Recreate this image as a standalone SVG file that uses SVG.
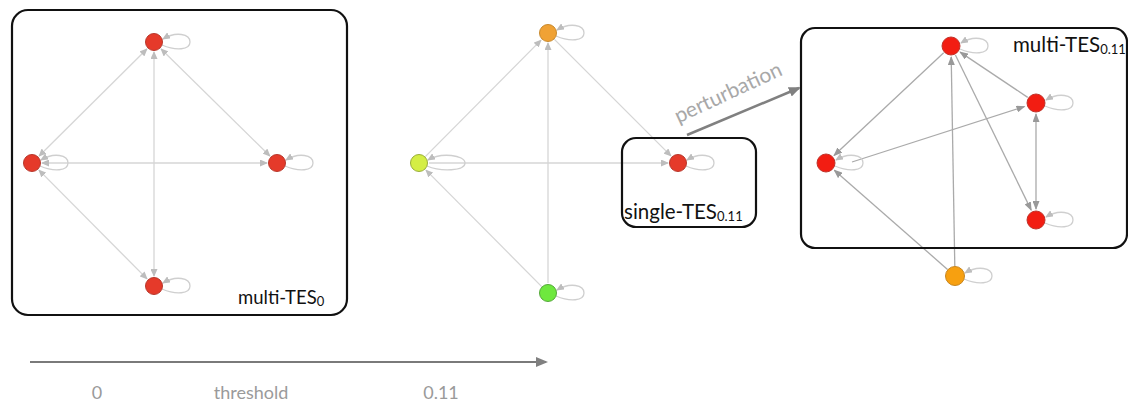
<svg xmlns="http://www.w3.org/2000/svg" width="1128" height="409" viewBox="0 0 1128 409">
<defs>
<marker id="ah" markerWidth="8" markerHeight="7" refX="7" refY="3.5" orient="auto-start-reverse" markerUnits="userSpaceOnUse"><path d="M0,0 L8,3.5 L0,7 Z" fill="#bdbdbd"/></marker>
<marker id="ah3" markerWidth="9" markerHeight="7" refX="8" refY="3.5" orient="auto-start-reverse" markerUnits="userSpaceOnUse"><path d="M0,0 L9,3.5 L0,7 Z" fill="#999"/></marker>
<marker id="ahd" markerWidth="12" markerHeight="10" refX="10" refY="5" orient="auto" markerUnits="userSpaceOnUse"><path d="M0,0 L12,5 L0,10 Z" fill="#808080"/></marker>
</defs>
<style>
.box{fill:none;stroke:#111;stroke-width:2.2}
.e{fill:none;stroke:#d6d6d6;stroke-width:1.3}
.e3{fill:none;stroke:#aaaaaa;stroke-width:1.3}
.loop{fill:none;stroke:#cfcfcf;stroke-width:1.3}
.n{stroke-width:1}
.red{fill:#e53a2a;stroke:#b8382c}
.red3{fill:#f21d12;stroke:#c0332a}
.org{fill:#f0a235;stroke:#c88a2e}
.org3{fill:#f7a010;stroke:#c68520}
.yel{fill:#d4ee45;stroke:#9aae3a}
.grn{fill:#6ee83e;stroke:#55a83a}
.lbl{font-family:"Lato","Open Sans",sans-serif;font-size:18.5px;fill:#111}
.lbl2{font-family:"Lato","Open Sans",sans-serif;font-size:20.5px;fill:#111}
.sub{font-size:13px}
.ax{font-family:"Lato","Open Sans",sans-serif;font-size:18px;fill:#9a9a9a}
</style>

<g id="connectors">
  <!-- panel 1 -->
  <path class="e" d="M146.9,49 L39.1,156" marker-start="url(#ah)" marker-end="url(#ah)"/>
  <path class="e" d="M161.1,49 L269.9,156" marker-start="url(#ah)" marker-end="url(#ah)"/>
  <path class="e" d="M154,52 L154,276" marker-start="url(#ah)" marker-end="url(#ah)"/>
  <path class="e" d="M42,163 L267,163" marker-start="url(#ah)" marker-end="url(#ah)"/>
  <path class="e" d="M39,170.1 L147,278.9" marker-start="url(#ah)" marker-end="url(#ah)"/>
  <!-- panel 2 -->
  <path class="e" d="M425.3,156.6 L541,40.1" marker-end="url(#ah)"/>
  <path class="e" d="M548,283 L548,43" marker-end="url(#ah)"/>
  <path class="e" d="M554.4,39.4 L670.9,155.9" marker-end="url(#ah)"/>
  <path class="e" d="M429,163 L668,163" marker-end="url(#ah)"/>
  <path class="e" d="M541.7,286.6 L426,170.1" marker-end="url(#ah)"/>
  <!-- panel 3 -->
  <path class="e3" d="M943.7,52.8 L834,155.5" marker-end="url(#ah3)"/>
  <path class="e3" d="M1027.7,97.4 L960.1,52.1" marker-end="url(#ah3)"/>
  <path class="e3" d="M852,162 L1024.5,106.5" marker-end="url(#ah3)"/>
  <path class="e3" d="M955.4,55 L1031.2,210.1" marker-end="url(#ah3)"/>
  <path class="e3" d="M1036,114 L1036,209" marker-start="url(#ah3)" marker-end="url(#ah3)"/>
  <path class="e3" d="M954.8,266 L951.2,57" marker-end="url(#ah3)"/>
  <path class="e3" d="M947.5,269.4 L834.3,170.2" marker-end="url(#ah3)"/>
  <!-- perturbation -->
  <path d="M687,135 L799,88" fill="none" stroke="#808080" stroke-width="2.5" marker-end="url(#ahd)"/>
  <!-- axis -->
  <path d="M30,362 L546,362" fill="none" stroke="#7a7a7a" stroke-width="2" marker-end="url(#ahd)"/>
</g>

<g id="loops">
  <path class="loop" d="M163,39 C176,31 190,34 190,42 C190,50 176,51 162,45" marker-start="url(#ah)"/>
  <path class="loop" d="M41,160 C54,152 68,155 68,163 C68,171 54,172 40,166" marker-start="url(#ah)"/>
  <path class="loop" d="M286,160 C299,152 313,155 313,163 C313,171 299,172 285,166" marker-start="url(#ah)"/>
  <path class="loop" d="M163,283 C176,275 190,278 190,286 C190,294 176,295 162,289" marker-start="url(#ah)"/>
  <path class="loop" d="M557,30 C570,22 584,25 584,33 C584,41 570,42 556,36" marker-start="url(#ah)"/>
  <path class="loop" d="M428,160 C441,152 465,155 465,163 C465,171 441,172 427,166" marker-start="url(#ah)"/>
  <path class="loop" d="M687,160 C700,152 714,155 714,163 C714,171 700,172 686,166" marker-start="url(#ah)"/>
  <path class="loop" d="M557,290 C570,282 584,285 584,293 C584,301 570,302 556,296" marker-start="url(#ah)"/>
  <path class="loop" d="M961,43 C974,35 988,38 988,46 C988,54 974,55 960,49" marker-start="url(#ah)"/>
  <path class="loop" d="M1046,100 C1059,92 1073,95 1073,103 C1073,111 1059,112 1045,106" marker-start="url(#ah)"/>
  <path class="loop" d="M836,160 C849,152 863,155 863,163 C863,171 849,172 835,166" marker-start="url(#ah)"/>
  <path class="loop" d="M1046,217 C1059,209 1073,212 1073,220 C1073,228 1059,229 1045,223" marker-start="url(#ah)"/>
  <path class="loop" d="M965,273 C978,265 992,268 992,276 C992,284 978,285 964,279" marker-start="url(#ah)"/>
</g>

<g id="panel-multi-TES0">
  <rect class="box" x="12" y="10" width="335" height="305" rx="16"/>
  <text class="lbl" x="238" y="304">multi-TES<tspan class="sub" dy="2">0</tspan></text>
</g>
<g id="n1-top"><circle class="n red" cx="154" cy="42" r="8.5"/></g>
<g id="n1-left"><circle class="n red" cx="32" cy="163" r="8.5"/></g>
<g id="n1-right"><circle class="n red" cx="277" cy="163" r="8.5"/></g>
<g id="n1-bottom"><circle class="n red" cx="154" cy="286" r="8.5"/></g>

<g id="n2-top"><circle class="n org" cx="548" cy="33" r="8.5"/></g>
<g id="n2-left"><circle class="n yel" cx="419" cy="163" r="8.5"/></g>
<g id="n2-bottom"><circle class="n grn" cx="548" cy="293" r="8.5"/></g>
<g id="panel-single-TES">
  <rect class="box" x="622" y="138" width="134" height="89" rx="14"/>
  <text class="lbl2" x="624" y="219">single-TES<tspan class="sub" dy="2">0.11</tspan></text>
</g>
<g id="n2-right"><circle class="n red" cx="678" cy="163" r="8.5"/></g>

<g id="perturbation-label">
  <text x="731" y="99" transform="rotate(-25 731 99)" text-anchor="middle" font-family="Lato, 'Open Sans', sans-serif" font-size="21" fill="#a8a8a8">perturbation</text>
</g>

<g id="panel-multi-TES011">
  <rect class="box" x="801" y="28" width="326" height="220" rx="14"/>
  <text class="lbl2" x="1013" y="52">multi-TES<tspan class="sub" dy="2">0.11</tspan></text>
</g>
<g id="n3-top"><circle class="n red3" cx="951" cy="46" r="9"/></g>
<g id="n3-rightup"><circle class="n red3" cx="1036" cy="103" r="9"/></g>
<g id="n3-left"><circle class="n red3" cx="826" cy="163" r="9"/></g>
<g id="n3-rightbottom"><circle class="n red3" cx="1036" cy="220" r="9"/></g>
<g id="n3-bottom"><circle class="n org3" cx="955" cy="276" r="9.5"/></g>

<g id="axis-labels">
  <text class="ax" x="97" y="399" text-anchor="middle">0</text>
  <text class="ax" x="251" y="399" text-anchor="middle">threshold</text>
  <text class="ax" x="441" y="399" text-anchor="middle">0.11</text>
</g>
</svg>
